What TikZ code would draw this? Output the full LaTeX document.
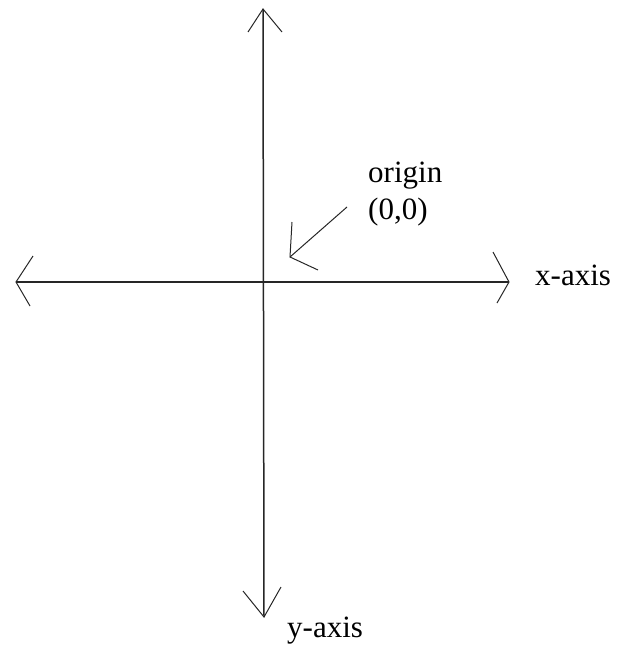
\documentclass[tikz,border=0pt]{standalone}
\usepackage{fontspec}
\setmainfont{Liberation Serif}
\tikzset{
  axisline/.style={line width=1.5pt, black!85},
  armline/.style={line width=1pt, black!85},
  lbl/.style={anchor=base west, inner sep=0pt, font=\fontsize{31}{35}\selectfont}
}
\begin{document}
\begin{tikzpicture}[x=1pt,y=-1pt]
\useasboundingbox (0,0) rectangle (627,645);
% axes
\coordinate (top) at (263,9);
\coordinate (bottom) at (264,617);
\coordinate (left) at (16,282);
\coordinate (right) at (509,282);
\draw[axisline] (top) -- (bottom);
\draw[axisline] (left) -- (right);
% arrowheads
\draw[armline] (248,32) -- (top) -- (282,32);
\draw[armline] (243,591) -- (bottom) -- (281,587);
\draw[armline] (33,256) -- (left) -- (30,306);
\draw[armline] (493,252) -- (right) -- (497,303);
% origin pointer
\coordinate (ptail) at (347,207);
\coordinate (ptip) at (290,257);
\draw[armline] (ptail) -- (ptip);
\draw[armline] (292,222) -- (ptip) -- (318,270);
% labels
\node[lbl] (xl) at (535,285) {x-axis};
\node[lbl] (yl) at (287,637) {y-axis};
\node[lbl] (o1) at (368,182) {origin};
\node[lbl] (o2) at (368,219) {(0,0)};
\end{tikzpicture}
\end{document}
